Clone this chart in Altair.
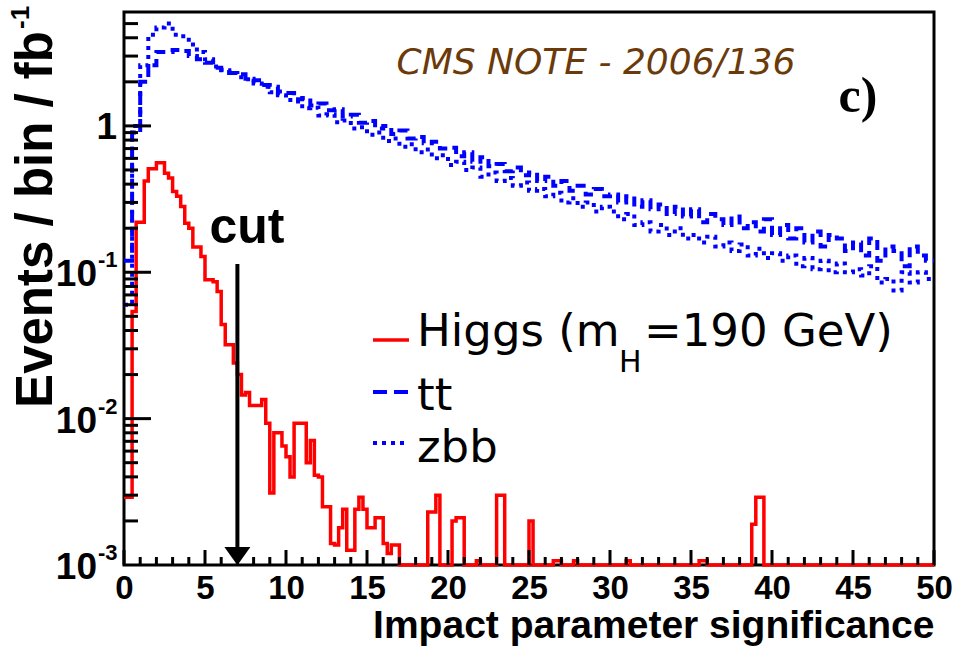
import altair as alt
import pandas as pd

# ---------------- data ----------------
higgs_bin_width = 0.25
n_higgs_bins = 200
higgs_head = [
    0.0029, 0.0029, 0.054, 0.22, 0.22, 0.42, 0.51, 0.51, 0.56, 0.56,
    0.475, 0.44, 0.356, 0.33, 0.281, 0.216, 0.20, 0.149, 0.149, 0.128,
    0.089, 0.089, 0.086, 0.074, 0.044, 0.032, 0.032, 0.024, 0.020, 0.0145,
    0.0151, 0.0123, 0.0123, 0.0123, 0.0135, 0.0093, 0.0031, 0.0080, 0.0080, 0.0065,
    0.0055, 0.0040, 0.0093, 0.0093, 0.0093, 0.0050, 0.0071, 0.0041, 0.0040, 0.0025,
    0.0025, 0.0014, 0.00137, 0.0018, 0.0024, 0.00126, 0.00126, 0.0024, 0.0029, 0.0024,
    0.0018, 0.0018, 0.0021, 0.0021, 0.0014, 0.0012, 0.00137, 0.00137,
]
higgs_spike_bins = [75, 76, 77, 81, 82, 83, 87, 92, 93, 100, 106, 107, 111, 124, 142, 143, 155, 156, 157]
higgs_spike_vals = [0.0023, 0.0023, 0.0030, 0.0020, 0.0021, 0.0021, 0.00107, 0.0030, 0.0030, 0.0020,
                    0.00107, 0.00107, 0.00107, 0.00107, 0.00107, 0.00107, 0.0019, 0.0029, 0.0029]

bkg_bin_width = 0.5
tt_vals = [
    0.12, 1.0, 2.0, 2.6, 3.2, 3.2, 3.3, 3.25, 3.0, 2.85,
    2.7, 2.5, 2.42, 2.3, 2.25, 2.1, 2.05, 1.9, 1.85, 1.72,
    1.68, 1.52, 1.55, 1.38, 1.42, 1.28, 1.3, 1.16, 1.19, 1.05,
    1.08, 0.96, 1.0, 0.88, 0.93, 0.82, 0.84, 0.76, 0.78, 0.7,
    0.71, 0.62, 0.66, 0.57, 0.61, 0.53, 0.55, 0.49, 0.52, 0.46,
    0.48, 0.42, 0.45, 0.39, 0.42, 0.36, 0.39, 0.34, 0.37, 0.33,
    0.34, 0.30, 0.33, 0.28, 0.31, 0.27, 0.29, 0.25, 0.28, 0.24,
    0.27, 0.22, 0.25, 0.23, 0.21, 0.24, 0.20, 0.22, 0.19, 0.23,
    0.18, 0.21, 0.17, 0.20, 0.16, 0.19, 0.15, 0.18, 0.17, 0.14,
    0.16, 0.13, 0.17, 0.12, 0.15, 0.14, 0.11, 0.15, 0.13, 0.12,
]
zbb_vals = [
    0.06, 0.9, 2.6, 4.2, 4.7, 5.0, 4.2, 4.1, 3.6, 3.2,
    2.85, 2.55, 2.4, 2.3, 2.15, 2.08, 1.95, 1.85, 1.7, 1.62,
    1.5, 1.47, 1.32, 1.33, 1.18, 1.2, 1.06, 1.09, 0.96, 0.98,
    0.87, 0.9, 0.79, 0.82, 0.72, 0.75, 0.66, 0.69, 0.6, 0.63,
    0.54, 0.57, 0.5, 0.52, 0.45, 0.48, 0.42, 0.44, 0.39, 0.41,
    0.36, 0.37, 0.33, 0.35, 0.3, 0.32, 0.28, 0.3, 0.26, 0.28,
    0.26, 0.23, 0.25, 0.21, 0.22, 0.19, 0.21, 0.18, 0.20, 0.17,
    0.18, 0.16, 0.175, 0.15, 0.16, 0.14, 0.155, 0.13, 0.145, 0.125,
    0.135, 0.12, 0.13, 0.11, 0.125, 0.105, 0.12, 0.10, 0.115, 0.10,
    0.105, 0.095, 0.11, 0.085, 0.09, 0.075, 0.10, 0.085, 0.10, 0.09,
]

x_major = [0, 5, 10, 15, 20, 25, 30, 35, 40, 45, 50]
x_minor = [v for v in range(0, 51) if v % 5 != 0]
y_major = [0.01, 0.1, 1.0]
y_minor = [m * d for d in (0.001, 0.01, 0.1, 1.0) for m in range(2, 10) if m * d < 6.0]
y_label_one = [1.0]
y_label_pow_vals = [0.1, 0.01, 0.001]
y_label_pow_sup = ["-1", "-2", "-3"]

cut_value = 7.0
arrow_top = 0.114
arrow_bottom = 0.0013
arrow_head = 0.00115

YMIN, YMAX = 1e-3, 6.0
W, H = 810, 553

# ---------------- frames ----------------
def step_frame(vals, bw):
    xs = [i * bw for i in range(len(vals))] + [len(vals) * bw]
    ys = [max(v, YMIN) for v in vals] + [max(vals[-1], YMIN)]
    return pd.DataFrame({"x": xs, "y": ys})

higgs = higgs_head + [0.0] * (n_higgs_bins - len(higgs_head))
for b, v in zip(higgs_spike_bins, higgs_spike_vals):
    higgs[b] = v

df_h = step_frame(higgs, higgs_bin_width)
df_tt = step_frame(tt_vals, bkg_bin_width)
df_zbb = step_frame(zbb_vals, bkg_bin_width)

SANS = "Liberation Sans, Arial, Helvetica, sans-serif"

X = alt.X("x:Q", scale=alt.Scale(domain=[0, 50], nice=False, zero=False),
          axis=alt.Axis(values=x_major, title="Impact parameter significance",
                        labelFont=SANS, labelFontSize=33, labelFontWeight="bold",
                        labelColor="black", labelPadding=7, labelFlush=False,
                        ticks=False, domain=False, grid=False,
                        titleFont=SANS, titleFontSize=39, titleFontWeight="bold",
                        titleColor="black", titleAnchor="end", titlePadding=1))
Y = alt.Y("y:Q", scale=alt.Scale(type="log", domain=[YMIN, YMAX], nice=False), axis=None)

zbb_line = alt.Chart(df_zbb).mark_line(interpolate="step-after", color="#0000ff",
                                       strokeWidth=4, strokeDash=[4, 5]).encode(x=X, y=Y)
tt_line = alt.Chart(df_tt).mark_line(interpolate="step-after", color="#0000ff",
                                     strokeWidth=4, strokeDash=[10, 6]).encode(x=X, y=Y)
h_line = alt.Chart(df_h).mark_line(interpolate="step-after", color="#ff0000",
                                   strokeWidth=3.5).encode(x=X, y=Y)

# inward ticks
xt_major = alt.Chart(pd.DataFrame({"x": x_major})).mark_rule(color="black", strokeWidth=3).encode(
    x=X, y=alt.value(H), y2=alt.value(H - 15))
xt_minor = alt.Chart(pd.DataFrame({"x": x_minor})).mark_rule(color="black", strokeWidth=3).encode(
    x=X, y=alt.value(H), y2=alt.value(H - 8))
yt_major = alt.Chart(pd.DataFrame({"y": y_major})).mark_rule(color="black", strokeWidth=3).encode(
    y=Y, x=alt.value(0), x2=alt.value(27))
yt_minor = alt.Chart(pd.DataFrame({"y": y_minor})).mark_rule(color="black", strokeWidth=3).encode(
    y=Y, x=alt.value(0), x2=alt.value(14))

# y tick labels with superscripts
yl_one = alt.Chart(pd.DataFrame({"y": y_label_one, "t": ["1"]})).mark_text(
    align="right", baseline="middle", font=SANS, fontWeight="bold", fontSize=37, color="black", dy=2
).encode(y=Y, x=alt.value(-7), text="t:N")
yl_ten = alt.Chart(pd.DataFrame({"y": y_label_pow_vals, "t": ["10"] * 3})).mark_text(
    align="right", baseline="middle", font=SANS, fontWeight="bold", fontSize=37, color="black", dy=3
).encode(y=Y, x=alt.value(-27), text="t:N")
yl_sup = alt.Chart(pd.DataFrame({"y": y_label_pow_vals, "t": y_label_pow_sup})).mark_text(
    align="left", baseline="middle", font=SANS, fontWeight="bold", fontSize=22, color="black", dy=-12
).encode(y=Y, x=alt.value(-26), text="t:N")

# y title
ytitle = alt.Chart(pd.DataFrame({"t": ["Events / bin / fb"]})).mark_text(
    align="right", baseline="middle", angle=270, font=SANS, fontWeight="bold", fontSize=51, color="black"
).encode(x=alt.value(-87), y=alt.value(19), text="t:N")
ytitle_sup = alt.Chart(pd.DataFrame({"t": ["-1"]})).mark_text(
    align="left", baseline="middle", angle=270, font=SANS, fontWeight="bold", fontSize=26, color="black"
).encode(x=alt.value(-103), y=alt.value(17), text="t:N")

# cut arrow
arrow_shaft = alt.Chart(pd.DataFrame({"x": [cut_value], "y": [arrow_top], "y2": [arrow_bottom]})).mark_rule(
    color="black", strokeWidth=4).encode(x=X, y=Y, y2="y2:Q")
arrow_tip = alt.Chart(pd.DataFrame({"x": [cut_value], "y": [arrow_head]})).mark_point(
    shape="M-1,-0.7L1,-0.7L0,0.7Z", size=676, filled=True, color="black", opacity=1, strokeWidth=0
).encode(x=X, y=Y)
cut_text = alt.Chart(pd.DataFrame({"t": ["cut"]})).mark_text(
    align="center", baseline="alphabetic", font=SANS, fontWeight="bold", fontSize=50, color="black"
).encode(x=alt.value(123), y=alt.value(231), text="t:N")

# annotations
note = alt.Chart(pd.DataFrame({"t": ["CMS NOTE - 2006/136"]})).mark_text(
    align="center", baseline="alphabetic", font="DejaVu Sans", fontStyle="italic", fontSize=36,
    color="#6b3a0b").encode(x=alt.value(472), y=alt.value(62), text="t:N")
panel = alt.Chart(pd.DataFrame({"t": ["c)"]})).mark_text(
    align="center", baseline="alphabetic", font="Liberation Serif", fontWeight="bold", fontSize=50,
    color="black").encode(x=alt.value(734), y=alt.value(100), text="t:N")

# legend
LEG = "DejaVu Sans"
leg_red = alt.Chart(pd.DataFrame({"t": ["h"]})).mark_rule(color="#ff0000", strokeWidth=3.5).encode(
    x=alt.value(249), x2=alt.value(285), y=alt.value(328))
leg_tt = alt.Chart(pd.DataFrame({"t": ["t"]})).mark_rule(color="#0000ff", strokeWidth=4,
                                                         strokeDash=[14, 7]).encode(
    x=alt.value(249), x2=alt.value(285), y=alt.value(380))
leg_zbb = alt.Chart(pd.DataFrame({"t": ["z"]})).mark_rule(color="#0000ff", strokeWidth=4,
                                                          strokeDash=[4, 5]).encode(
    x=alt.value(249), x2=alt.value(285), y=alt.value(431))
leg_t1 = alt.Chart(pd.DataFrame({"t": ["Higgs (m"]})).mark_text(
    align="left", baseline="alphabetic", font=LEG, fontSize=45, color="black").encode(
    x=alt.value(293), y=alt.value(334), text="t:N")
leg_t1s = alt.Chart(pd.DataFrame({"t": ["H"]})).mark_text(
    align="left", baseline="alphabetic", font=LEG, fontSize=30, color="black").encode(
    x=alt.value(495), y=alt.value(360), text="t:N")
leg_t1b = alt.Chart(pd.DataFrame({"t": ["=190 GeV)"]})).mark_text(
    align="left", baseline="alphabetic", font=LEG, fontSize=45, color="black").encode(
    x=alt.value(520), y=alt.value(334), text="t:N")
leg_t2 = alt.Chart(pd.DataFrame({"t": ["tt"]})).mark_text(
    align="left", baseline="alphabetic", font=LEG, fontSize=45, color="black").encode(
    x=alt.value(293), y=alt.value(398), text="t:N")
leg_t3 = alt.Chart(pd.DataFrame({"t": ["zbb"]})).mark_text(
    align="left", baseline="alphabetic", font=LEG, fontSize=45, color="black").encode(
    x=alt.value(293), y=alt.value(450), text="t:N")

chart = alt.layer(
    zbb_line, tt_line, h_line,
    xt_major, xt_minor, yt_major, yt_minor,
    yl_one, yl_ten, yl_sup, ytitle, ytitle_sup,
    arrow_shaft, arrow_tip, cut_text, note, panel,
    leg_red, leg_tt, leg_zbb, leg_t1, leg_t1s, leg_t1b, leg_t2, leg_t3,
).properties(
    width=W, height=H,
    padding={"left": 124, "top": 12, "right": 27, "bottom": 86},
    autosize=alt.AutoSizeParams(type="none"),
    background="white",
).configure_view(stroke="black", strokeWidth=3)

chart.save("out.html", embed_options={"renderer": "svg", "actions": False})
